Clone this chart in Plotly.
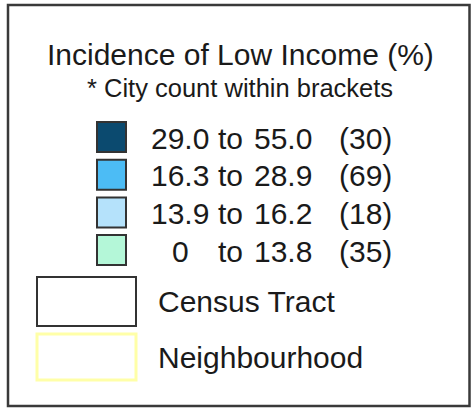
import plotly.graph_objects as go

# ---- data ----
title = "Incidence of Low Income (%)"
subtitle = "* City count within brackets"
range_low = ["29.0", "16.3", "13.9", "0"]
range_high = ["55.0", "28.9", "16.2", "13.8"]
city_counts = [30, 69, 18, 35]
class_colors = ["#0b4a6f", "#4cbcf5", "#b5e2fb", "#b4f7d8"]
boundary_labels = ["Census Tract", "Neighbourhood"]
boundary_colors = ["#333333", "#ffffa8"]

W, H = 471, 409
FONT = "Liberation Sans, Arial, sans-serif"
TXT = "#1a1a1a"

fig = go.Figure()
shapes = []
annotations = []

# outer frame
shapes.append(dict(type="rect", x0=8, x1=469.5, y0=5, y1=406,
                   line=dict(color="#3a3a3a", width=2.5), fillcolor="white", layer="below"))

annotations.append(dict(x=240, y=54, text=title, showarrow=False,
                        font=dict(family=FONT, size=30, color=TXT),
                        xanchor="center", yanchor="middle"))
annotations.append(dict(x=240, y=88, text=subtitle, showarrow=False,
                        font=dict(family=FONT, size=25.5, color=TXT),
                        xanchor="center", yanchor="middle"))

row_y0 = 122
row_step = 37.7
box_h = 30
for i, (lo, hi, cnt, col) in enumerate(zip(range_low, range_high, city_counts, class_colors)):
    y0 = row_y0 + i * row_step
    yc = y0 + box_h / 2 + 1
    shapes.append(dict(type="rect", x0=97, x1=126, y0=y0, y1=y0 + box_h,
                       line=dict(color="#333333", width=2), fillcolor=col))
    annotations.append(dict(x=180, y=yc, text=lo, showarrow=False,
                            font=dict(family=FONT, size=30, color=TXT),
                            xanchor="center", yanchor="middle"))
    annotations.append(dict(x=230, y=yc, text="to", showarrow=False,
                            font=dict(family=FONT, size=30, color=TXT),
                            xanchor="center", yanchor="middle"))
    annotations.append(dict(x=314, y=yc, text=hi, showarrow=False,
                            font=dict(family=FONT, size=30, color=TXT),
                            xanchor="right", yanchor="middle"))
    annotations.append(dict(x=337, y=yc, text=f"({cnt})", showarrow=False,
                            font=dict(family=FONT, size=30, color=TXT),
                            xanchor="left", yanchor="middle"))

b_y0 = [277, 334]
b_h = [49, 46]
b_w = [2, 3]
for lab, col, y0, h, lw in zip(boundary_labels, boundary_colors, b_y0, b_h, b_w):
    shapes.append(dict(type="rect", x0=37, x1=136, y0=y0, y1=y0 + h,
                       line=dict(color=col, width=lw), fillcolor="rgba(0,0,0,0)"))
    annotations.append(dict(x=156, y=y0 + h / 2, text=lab, showarrow=False,
                            font=dict(family=FONT, size=30, color=TXT),
                            xanchor="left", yanchor="middle"))

fig.update_layout(
    width=W, height=H,
    margin=dict(l=0, r=0, t=0, b=0),
    paper_bgcolor="white", plot_bgcolor="white",
    xaxis=dict(range=[0, W], visible=False, fixedrange=True),
    yaxis=dict(range=[H, 0], visible=False, fixedrange=True),
    shapes=shapes, annotations=annotations,
    showlegend=False,
)
fig.write_html(
    "out.html",
    config={"displayModeBar": False},
    post_script="document.body.style.margin='0';document.body.style.padding='0';document.body.style.overflow='hidden';",
)
